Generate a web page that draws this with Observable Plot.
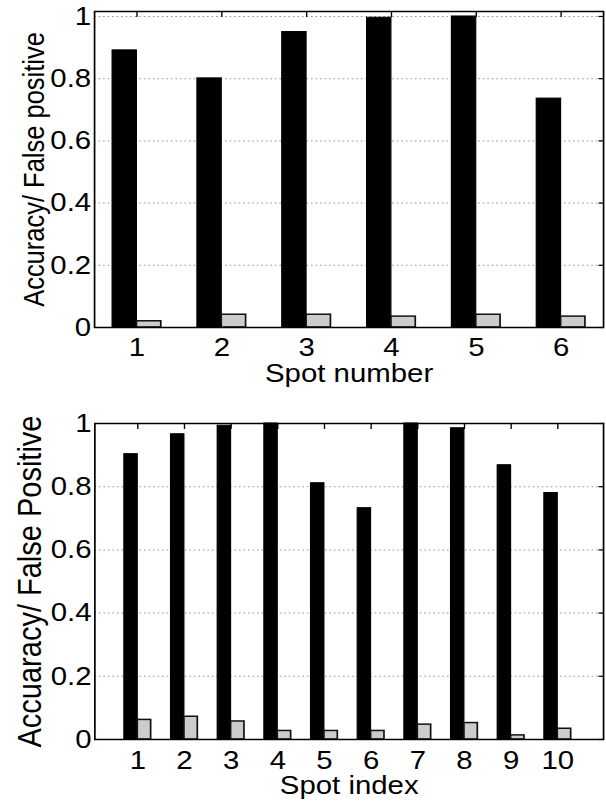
<!DOCTYPE html>
<html>
<head>
<meta charset="utf-8">
<script src="https://cdn.jsdelivr.net/npm/d3@7"></script>
<script src="https://cdn.jsdelivr.net/npm/@observablehq/plot@0.6"></script>
<style>
  html, body { margin: 0; padding: 0; background: #fff; }
  #wrap { width: 606px; height: 802px; overflow: hidden; background: #fff; }
  .panel svg { display: block; transform: scaleX(1.13); transform-origin: 0 0; }
</style>
</head>
<body>
<div id="wrap">
  <div class="panel" id="top"></div>
  <div class="panel" id="bottom"></div>
</div>
<script>
// ---- data ----
const spotsA = [1, 2, 3, 4, 5, 6];
const accuracyA = [0.891, 0.801, 0.950, 0.996, 1.0, 0.736];
const falsePosA = [0.020, 0.041, 0.041, 0.035, 0.041, 0.035];

const spotsB = [1, 2, 3, 4, 5, 6, 7, 8, 9, 10];
const accuracyB = [0.903, 0.966, 0.993, 1.0, 0.811, 0.732, 1.0, 0.985, 0.868, 0.780];
const falsePosB = [0.062, 0.072, 0.057, 0.027, 0.027, 0.027, 0.047, 0.052, 0.013, 0.034];

const yTicks = [0, 0.2, 0.4, 0.6, 0.8, 1];
const gridValues = [0.2, 0.4, 0.6, 0.8, 1];

const xLabelA = "Spot number";
const yLabelA = "Accuracy/ False positive";
const xLabelB = "Spot index";
const yLabelB = "Accuaracy/ False Positive";

// ---- style constants ----
const STRETCH = 1.13;
const W = 606 / STRETCH;
const BAR = 0.287;            // bar width as fraction of unit spacing
const FONT = "'Liberation Sans', Helvetica, Arial, sans-serif";

function panel(o) {
  const rows = o.spots.map((s, i) => ({spot: s, acc: o.acc[i], fp: o.fp[i]}));
  return Plot.plot({
    width: W,
    height: o.height,
    marginTop: o.marginTop,
    marginBottom: o.marginBottom,
    marginLeft: o.marginLeft,
    marginRight: o.marginRight,
    style: {fontFamily: FONT, fontSize: "26px", background: "white", color: "black", overflow: "visible"},
    x: {type: "linear", domain: o.xDomain, axis: null},
    y: {type: "linear", domain: o.yDomain, axis: null},
    marks: [
      Plot.ruleY(gridValues, {y: d => d, stroke: "#9a9a9a", strokeWidth: 1, strokeDasharray: "1.5,2.5"}),
      Plot.rect(rows, {x1: d => d.spot - BAR, x2: d => d.spot, y1: 0, y2: d => d.acc, fill: "black", stroke: "black", strokeWidth: 1}),
      Plot.rect(rows, {x1: d => d.spot, x2: d => d.spot + BAR, y1: 0, y2: d => d.fp, fill: "#cccccc", stroke: "#111", strokeWidth: 1.5}),
      // inward ticks
      Plot.axisX({anchor: "top", ticks: o.spots, tickSize: -5, tickFormat: () => "", label: null, strokeWidth: 1.2}),
      Plot.axisY({anchor: "right", ticks: yTicks, tickSize: -5, tickFormat: () => "", label: null, strokeWidth: 1.2}),
      // tick labels
      Plot.axisX({anchor: "bottom", ticks: o.spots, tickSize: 0, tickPadding: o.xTickPad, tickFormat: d => String(d), label: null, fontSize: 26}),
      Plot.axisY({anchor: "left", ticks: yTicks, tickSize: 0, tickPadding: 3, tickFormat: d => String(d), label: null, fontSize: 26}),
      Plot.frame({stroke: "black", strokeWidth: 1.5}),
      // axis titles
      Plot.text([o.xLabel], {frameAnchor: "bottom", dy: o.xLabelDy, lineAnchor: "top", fontSize: 26, fill: "black"}),
      Plot.text([o.yLabel], {frameAnchor: "left", rotate: -90, dx: o.yLabelDx, lineAnchor: "top", textAnchor: "middle", fontSize: o.yLabelSize, fill: "black"})
    ]
  });
}

document.getElementById("top").append(panel({
  spots: spotsA, acc: accuracyA, fp: falsePosA,
  xDomain: [0.5, 6.5], yDomain: [0, 1.016],
  height: 400, marginTop: 11, marginBottom: 73,
  marginLeft: 94 / STRETCH, marginRight: W - 603 / STRETCH,
  xTickPad: 10, xLabelDy: 36,
  xLabel: xLabelA, yLabel: yLabelA, yLabelSize: 25.5, yLabelDx: -62.8
}));

document.getElementById("bottom").append(panel({
  spots: spotsB, acc: accuracyB, fp: falsePosB,
  xDomain: [0.08, 10.98], yDomain: [0, 1],
  height: 402, marginTop: 23, marginBottom: 63,
  marginLeft: 94.3 / STRETCH, marginRight: W - 603 / STRETCH,
  xTickPad: 11, xLabelDy: 36,
  xLabel: xLabelB, yLabel: yLabelB, yLabelSize: 29, yLabelDx: -68.7
}));
</script>
</body>
</html>
